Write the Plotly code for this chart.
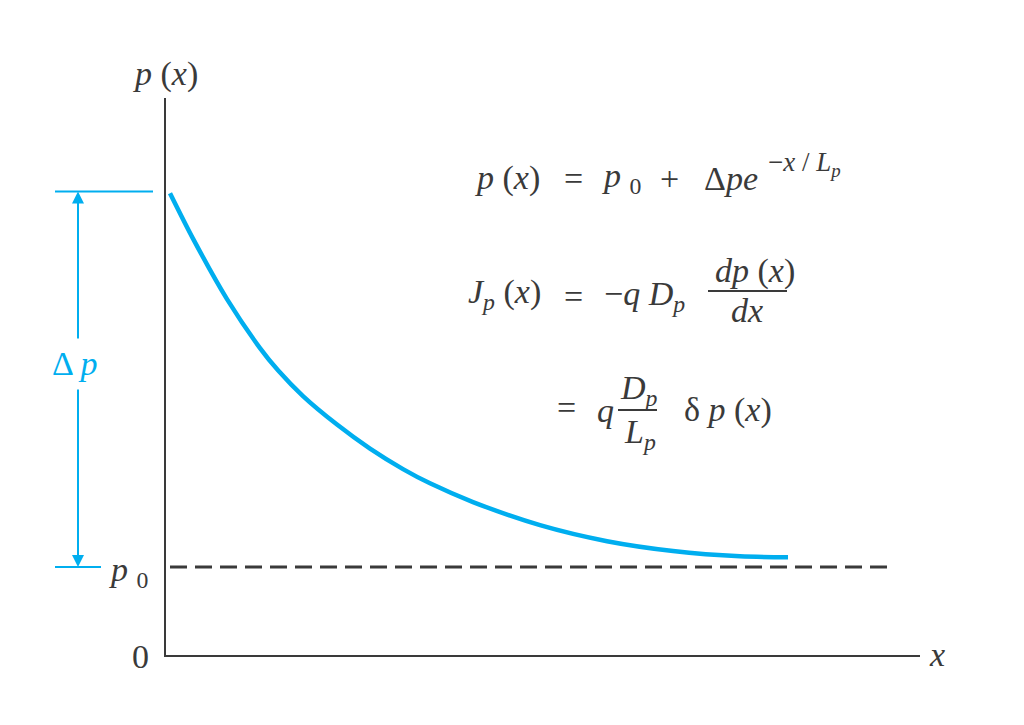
import plotly.graph_objects as go

# minority carrier profile (arbitrary units)
x_pos = [0.05, 0.28, 0.62, 0.95, 1.13, 1.38, 1.72, 2.05, 2.38, 2.65, 3.08, 3.75, 4.42, 5.08, 5.75, 6.23]
p_conc = [5.20, 4.69, 4.01, 3.46, 3.21, 2.92, 2.60, 2.33, 2.10, 1.94, 1.73, 1.47, 1.29, 1.18, 1.12, 1.11]

p0 = 1.0            # equilibrium level
p_top = 5.22        # p0 + delta p, top of the dimension marker
p0_line_x = [0.05, 7.22]
x_axis_len = 7.55
y_axis_len = 6.27

BLUE = '#00aeef'
INK = '#3a3a3a'
FONT = 'Liberation Serif'

# page pixels -> data units, only used to place the text labels
def X(px):
    return (px - 165) / 100

def Y(py):
    return (656 - py) / 89

fig = go.Figure()

# axes drawn as plain lines so they stop where the picture does
fig.add_trace(go.Scatter(x=[0, 0, x_axis_len], y=[y_axis_len, 0, 0], mode='lines',
                         line=dict(color=INK, width=2), hoverinfo='skip'))

# p0 dashed level
fig.add_trace(go.Scatter(x=p0_line_x, y=[p0, p0], mode='lines',
                         line=dict(color=INK, width=3, dash='17px,8px'), hoverinfo='skip'))

# the decaying profile
fig.add_trace(go.Scatter(x=x_pos, y=p_conc, mode='lines', line_shape='spline',
                         line=dict(color=BLUE, width=4.5, smoothing=0.8), hoverinfo='skip'))

# delta p dimension marker
mark_x = X(78)
fig.add_trace(go.Scatter(x=[X(55), X(153)], y=[p_top, p_top], mode='lines',
                         line=dict(color=BLUE, width=2), hoverinfo='skip'))
fig.add_trace(go.Scatter(x=[X(55), X(101)], y=[p0, p0], mode='lines',
                         line=dict(color=BLUE, width=2), hoverinfo='skip'))

annotations = []
for head, tail in [(p_top, Y(340)), (p0, Y(388))]:
    annotations.append(dict(x=mark_x, y=head, ax=mark_x, ay=tail, xref='x', yref='y',
                            axref='x', ayref='y', text='', showarrow=True,
                            arrowhead=2, arrowsize=1.2, arrowwidth=2, arrowcolor=BLUE))

def label(px, py, text, size=34, color=INK, xanchor='center'):
    annotations.append(dict(x=X(px), y=Y(py), xref='x', yref='y', text=text,
                            showarrow=False, xanchor=xanchor, yanchor='middle',
                            font=dict(family=FONT, size=size, color=color)))

# axis labels
label(165, 74, '<i>p</i> (<i>x</i>)')
label(140, 656, '0')
label(937, 654, '<i>x</i>')
label(128, 572, '<i>p</i> <sub>0</sub>')
label(75, 363, 'Δ <i>p</i>', color=BLUE)

# equation 1
label(507, 178, '<i>p</i> (<i>x</i>)')
label(573, 178, '=')
label(621, 178, '<i>p</i> <sub>0</sub>')
label(669, 178, '+')
label(731, 178, 'Δ<i>pe</i>')
label(766, 164, '−<i>x</i> / <i>L<sub>p</sub></i>', size=27, xanchor='left')

# equation 2
label(504, 294, '<i>J<sub>p</sub></i> (<i>x</i>)')
label(573, 296, '=')
label(644, 296, '−<i>q D<sub>p</sub></i>')
label(755, 271, '<i>dp</i> (<i>x</i>)')
label(747, 310, '<i>dx</i>')

# equation 3
label(566, 407, '=')
label(605, 410, '<i>q</i>')
label(639, 390, '<i>D<sub>p</sub></i>')
label(640, 434, '<i>L<sub>p</sub></i>')
label(728, 410, 'δ <i>p</i> (<i>x</i>)')

fig.update_layout(
    annotations=annotations,
    shapes=[
        dict(type='line', xref='x', yref='y', x0=X(708), x1=X(787), y0=Y(291), y1=Y(291),
             line=dict(color=INK, width=2)),
        dict(type='line', xref='x', yref='y', x0=X(618), x1=X(657), y0=Y(410), y1=Y(410),
             line=dict(color=INK, width=2)),
    ],
    width=1024, height=725,
    margin={'l': 0, 'r': 0, 't': 0, 'b': 0},
    paper_bgcolor='white', plot_bgcolor='white',
    showlegend=False,
    # the page body adds an 8px margin, so the visible window starts at pixel 8
    xaxis=dict(range=[X(8), X(1032)], visible=False),
    yaxis=dict(range=[Y(733), Y(8)], visible=False),
)

fig.write_html("out.html")
